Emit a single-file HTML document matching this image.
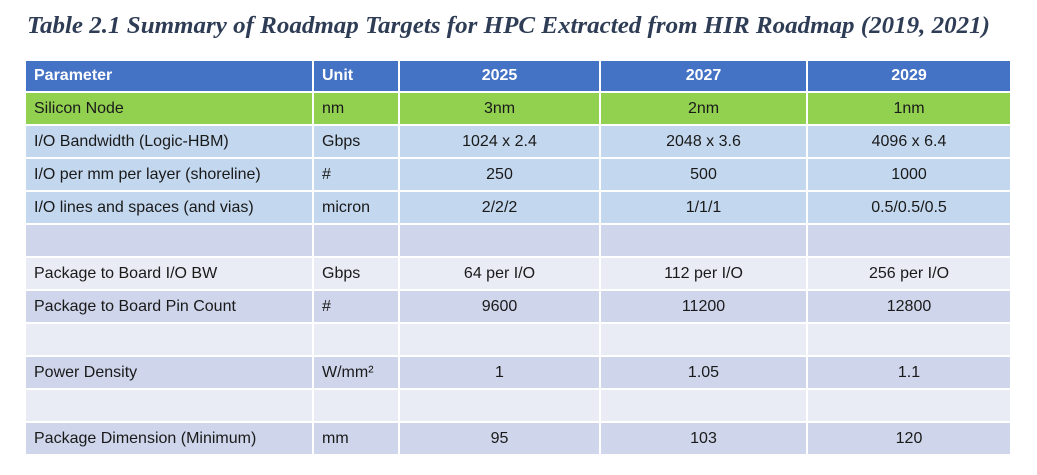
<!DOCTYPE html>
<html><head><meta charset="utf-8"><style>
body{margin:0;width:1037px;height:475px;background:#fff;position:relative;overflow:hidden;font-family:"Liberation Sans",sans-serif}
.t{position:absolute;left:0;top:0}
table{position:absolute;left:24px;top:61px;border-collapse:collapse;table-layout:fixed;width:986px}
td{height:31px;padding:0 0 0 8px;font-size:16px;color:#1a1a1a;border:2px solid #fff;border-top:0;white-space:nowrap;overflow:hidden}
td.c{text-align:center;padding:0}
tr.h td{background:#4472c4;color:#fff;font-weight:bold;font-size:16px;height:30px}
tr.g td{background:#92d050}
tr.b td{background:#c3d7ee}
tr.l td{background:#cfd5ea}
tr.w td{background:#e9ebf5}
</style></head><body>
<svg class="t" width="1037" height="50"><text x="27" y="33" textLength="963" lengthAdjust="spacingAndGlyphs" font-family="Liberation Serif" font-style="italic" font-weight="bold" font-size="24" fill="#2e3d55">Table 2.1 Summary of Roadmap Targets for HPC Extracted from HIR Roadmap (2019, 2021)</text></svg>
<table>
<colgroup><col style="width:288px"><col style="width:86px"><col style="width:201px"><col style="width:207px"><col style="width:204px"></colgroup>
<tr class="h"><td>Parameter</td><td>Unit</td><td class="c">2025</td><td class="c">2027</td><td class="c">2029</td></tr>
<tr class="g"><td>Silicon Node</td><td>nm</td><td class="c">3nm</td><td class="c">2nm</td><td class="c">1nm</td></tr>
<tr class="b"><td>I/O Bandwidth (Logic-HBM)</td><td>Gbps</td><td class="c">1024 x 2.4</td><td class="c">2048 x 3.6</td><td class="c">4096 x 6.4</td></tr>
<tr class="b"><td>I/O per mm per layer (shoreline)</td><td>#</td><td class="c">250</td><td class="c">500</td><td class="c">1000</td></tr>
<tr class="b"><td>I/O lines and spaces (and vias)</td><td>micron</td><td class="c">2/2/2</td><td class="c">1/1/1</td><td class="c">0.5/0.5/0.5</td></tr>
<tr class="l"><td></td><td></td><td></td><td></td><td></td></tr>
<tr class="w"><td>Package to Board I/O BW</td><td>Gbps</td><td class="c">64 per I/O</td><td class="c">112 per I/O</td><td class="c">256 per I/O</td></tr>
<tr class="l"><td>Package to Board Pin Count</td><td>#</td><td class="c">9600</td><td class="c">11200</td><td class="c">12800</td></tr>
<tr class="w"><td></td><td></td><td></td><td></td><td></td></tr>
<tr class="l"><td>Power Density</td><td>W/mm²</td><td class="c">1</td><td class="c">1.05</td><td class="c">1.1</td></tr>
<tr class="w"><td></td><td></td><td></td><td></td><td></td></tr>
<tr class="l"><td>Package Dimension (Minimum)</td><td>mm</td><td class="c">95</td><td class="c">103</td><td class="c">120</td></tr>
</table>
</body></html>
